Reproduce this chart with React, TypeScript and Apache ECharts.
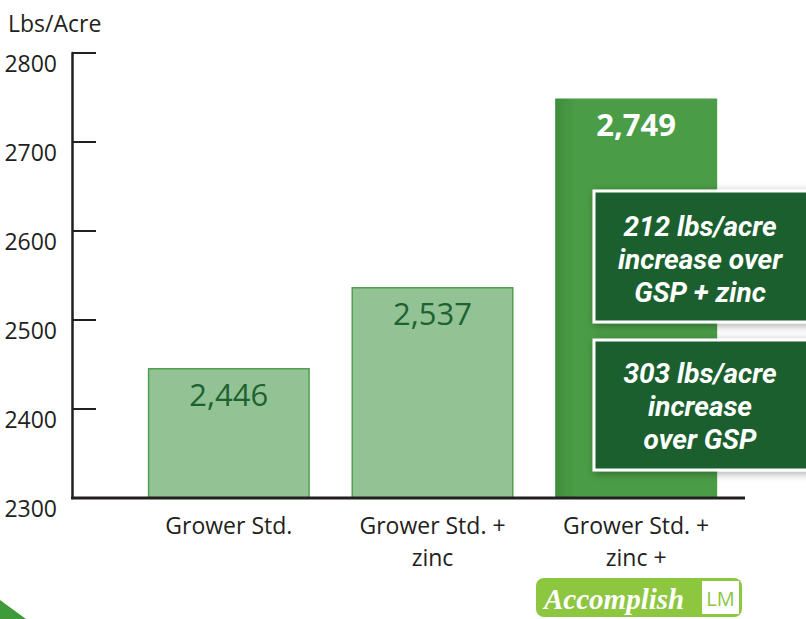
import React, { useEffect, useRef } from "react";
import * as echarts from "echarts";

const categories = ["Grower Std.", "Grower Std. +\nzinc", "Grower Std. +\nzinc +"];
const yields = [2446, 2537, 2749];
const yMin = 2300;
const yMax = 2800;
const yStep = 100;
const yUnit = "Lbs/Acre";
const callouts = ["212 lbs/acre\nincrease over\nGSP + zinc", "303 lbs/acre\nincrease\nover GSP"];
const brand = "Accomplish";
const brandSuffix = "LM";

const FONT = "'Open Sans', 'Noto Sans', sans-serif";
const DARK = "#231f20";

export default function App() {
  const ref = useRef<HTMLDivElement>(null);
  useEffect(() => {
    document.body.style.margin = "0";
    if (!ref.current) return;
    const chart = echarts.init(ref.current, null, { renderer: "svg" });
    const lastIdx = yields.length - 1;
    const data = yields.map((v, i) =>
      i === lastIdx
        ? {
            value: v,
            itemStyle: {
              color: new echarts.graphic.LinearGradient(0, 0, 1, 0, [
                { offset: 0, color: "#3f8d3c" },
                { offset: 0.12, color: "#4a9c46" },
                { offset: 1, color: "#4a9c46" },
              ]),
              borderWidth: 0,
            },
            label: { color: "#ffffff", fontWeight: "bold" as const },
          }
        : { value: v }
    );
    const boxStyle = {
      fill: "#1c5e2f",
      stroke: "#ffffff",
      lineWidth: 3,
      shadowBlur: 8,
      shadowColor: "rgba(0,0,0,0.35)",
      shadowOffsetX: 2,
      shadowOffsetY: 2,
    };
    const calloutText = (text: string, y: number) => ({
      type: "text",
      x: 700,
      y,
      style: {
        text,
        fill: "#ffffff",
        font: `italic bold 28px Roboto, sans-serif`,
        align: "center",
        verticalAlign: "middle",
        lineHeight: 33,
      },
    });
    chart.setOption({
      animation: false,
      title: {
        text: yUnit,
        left: 3,
        top: 6,
        textStyle: { fontFamily: FONT, fontSize: 23, fontWeight: "normal", color: DARK },
      },
      grid: { left: 127, right: 68, top: 53, bottom: 121 },
      xAxis: {
        type: "category",
        data: categories,
        axisLine: { show: false },
        axisTick: { show: false },
        axisLabel: {
          fontFamily: FONT,
          fontSize: 23,
          color: DARK,
          lineHeight: 32,
          margin: 11,
        },
      },
      yAxis: {
        type: "value",
        min: yMin,
        max: yMax,
        interval: yStep,
        offset: 55,
        splitLine: { show: false },
        axisLine: { show: true, lineStyle: { color: DARK, width: 2.5 } },
        axisTick: { show: true, inside: true, length: 24, lineStyle: { color: DARK, width: 2 } },
        axisLabel: {
          fontFamily: FONT,
          fontSize: 23,
          color: DARK,
          margin: 15,
          verticalAlign: "top",
          lineHeight: 20,
          formatter: (v: number) => String(v),
        },
      },
      series: [
        {
          type: "bar",
          data,
          barWidth: 162,
          itemStyle: { color: "#93c395", borderColor: "#52a04f", borderWidth: 1.5 },
          label: {
            show: true,
            position: "insideTop",
            distance: 10,
            fontFamily: FONT,
            fontSize: 31,
            color: "#1e6232",
            formatter: (p: any) => Number(p.value).toLocaleString("en-US"),
          },
          z: 2,
        },
      ],
      graphic: [
        {
          type: "line",
          z: 10,
          shape: { x1: 71, y1: 498, x2: 745, y2: 498 },
          style: { stroke: DARK, lineWidth: 3 },
        },
        { type: "rect", z: 20, shape: { x: 594, y: 191, width: 240, height: 131 }, style: boxStyle },
        { type: "rect", z: 20, shape: { x: 594, y: 340, width: 240, height: 130 }, style: boxStyle },
        { ...calloutText(callouts[0], 259), z: 21 },
        { ...calloutText(callouts[1], 406), z: 21 },
        {
          type: "rect",
          z: 20,
          shape: { x: 536, y: 578, width: 206, height: 39, r: 8 },
          style: { fill: "#8dc63f" },
        },
        {
          type: "text",
          z: 21,
          x: 544,
          y: 599,
          style: {
            text: brand,
            fill: "#ffffff",
            font: `italic bold 29px 'Liberation Serif', serif`,
            verticalAlign: "middle",
          },
        },
        {
          type: "rect",
          z: 21,
          shape: { x: 702, y: 581, width: 37, height: 33 },
          style: { fill: "#ffffff" },
        },
        {
          type: "text",
          z: 22,
          x: 720.5,
          y: 598,
          style: {
            text: brandSuffix,
            fill: "#8dc63f",
            font: `20px ${FONT}`,
            align: "center",
            verticalAlign: "middle",
          },
        },
        {
          type: "polygon",
          z: 20,
          shape: { points: [[0, 600], [26, 619], [0, 619]] },
          style: { fill: "#3f9a3a" },
        },
      ],
    });
    return () => chart.dispose();
  }, []);
  return <div ref={ref} style={{ width: 806, height: 619 }} />;
}
